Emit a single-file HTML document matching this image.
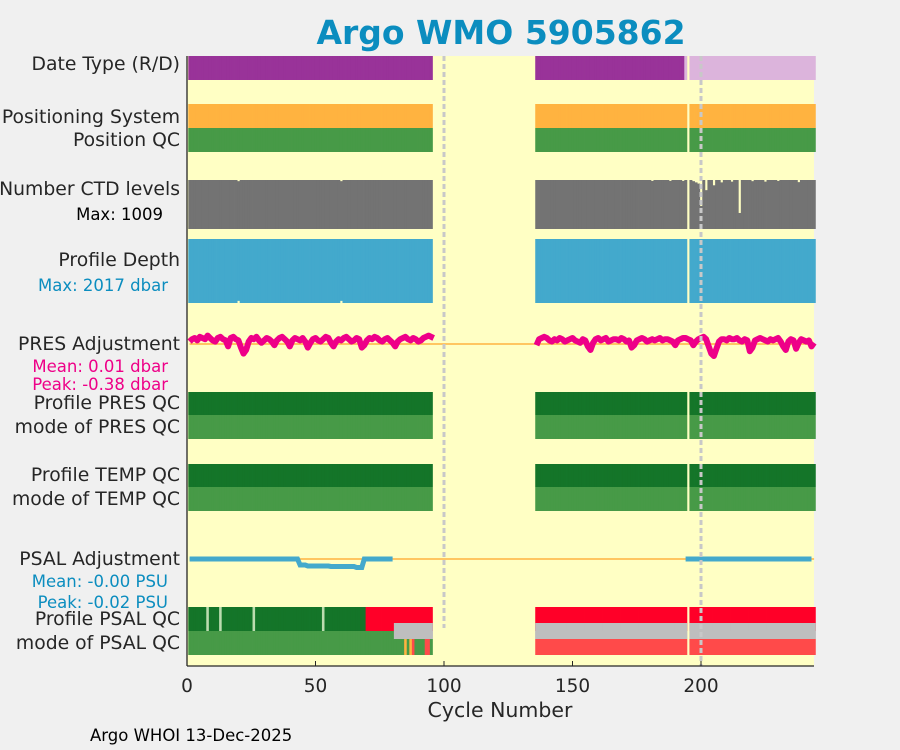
<!DOCTYPE html>
<html><head><meta charset="utf-8"><style>
html,body{margin:0;padding:0;background:#f0f0f0;}
svg{display:block;font-family:"DejaVu Sans","Liberation Sans",sans-serif;}
</style></head><body>
<svg id="chart" width="900" height="750" viewBox="0 0 900 750" xmlns="http://www.w3.org/2000/svg">
<rect width="900" height="750" fill="#f0f0f0"/>
<text x="501" y="44" text-anchor="middle" font-size="33" font-weight="bold" fill="#0b8dbf">Argo WMO 5905862</text>
<rect x="187" y="56" width="627" height="610" fill="#ffffc4"/>
<g id="marks"></g>
<g font-size="18.8" fill="#262626" text-anchor="end">
<text x="180" y="70">Date Type (R/D)</text>
<text x="180" y="123">Positioning System</text>
<text x="180" y="146">Position QC</text>
<text x="180" y="195">Number CTD levels</text>
<text x="163" y="220" font-size="16.5" fill="#000">Max: 1009</text>
<text x="180" y="266">Profile Depth</text>
<text x="168" y="291" font-size="16.5" fill="#0b8dbf">Max: 2017 dbar</text>
<text x="180" y="350">PRES Adjustment</text>
<text x="168" y="372" font-size="16.5" fill="#ee0088">Mean: 0.01 dbar</text>
<text x="168" y="390" font-size="16.5" fill="#ee0088">Peak: -0.38 dbar</text>
<text x="180" y="409">Profile PRES QC</text>
<text x="180" y="433">mode of PRES QC</text>
<text x="180" y="481">Profile TEMP QC</text>
<text x="180" y="505">mode of TEMP QC</text>
<text x="180" y="565">PSAL Adjustment</text>
<text x="168" y="587" font-size="16.5" fill="#0b8dbf">Mean: -0.00 PSU</text>
<text x="168" y="608" font-size="16.5" fill="#0b8dbf">Peak: -0.02 PSU</text>
<text x="180" y="625">Profile PSAL QC</text>
<text x="180" y="649">mode of PSAL QC</text>
</g>
<line x1="187" y1="56" x2="187" y2="666" stroke="#262626" stroke-width="1.3"/>
<line x1="187" y1="666" x2="814" y2="666" stroke="#262626" stroke-width="1.3"/>
<g id="xticks" font-size="18.5" fill="#262626" text-anchor="middle"></g>
<text x="500" y="717" text-anchor="middle" font-size="20.5" fill="#262626">Cycle Number</text>
<text x="90" y="741" font-size="16.5" fill="#000">Argo WHOI 13-Dec-2025</text>
</svg>
<script>
const xTicks=[0,50,100,150,200];
const segments=[[1,95],[136,244]];
const missingCycles=[195];
const realtimeEnd=193;
const ctdDipCycles=[20,60,181,188,193,197,198,199,200,202,205,208,212,215,220,225,230,238];
const ctdDipValues=[985,985,990,990,990,985,960,935,475,800,900,960,975,330,985,975,990,965];
const depthDipCycles=[20,60];
const depthDipValues=[1950,1950];
const presA=[2,4,5,3,6,5,4,7,5,3,2,5,6,4,3,-2,5,6,4,3,-3,-8,-5,2,5,4,6,3,1,3,5,4,2,-1,3,5,6,4,2,-2,3,5,4,3,5,2,-3,1,4,5,3,2,4,6,5,1,-2,2,4,3,5,6,4,2,3,5,4,-3,-1,3,5,4,6,5,3,2,4,5,3,1,-2,2,4,5,6,4,3,5,4,2,3,5,6,7,6,5];
const presB=[-1,4,5,6,5,3,2,4,3,5,4,2,3,4,5,3,2,1,4,3,-2,-5,1,4,5,3,4,5,2,3,4,4,3,5,4,2,3,-3,-1,3,4,5,4,2,3,4,3,4,5,3,4,4,3,2,-1,3,4,5,5,4,3,-1,2,4,5,6,4,-2,-8,-10,-4,2,4,4,3,5,4,4,5,3,2,4,3,-6,-3,3,4,5,4,3,2,4,3,4,5,2,-2,-5,2,4,3,-4,1,4,3,2,3,-2,1];
const psalCycles=[1,43,44,46,47,55,56,65,66,68,69,80,194,243];
const psalValues=[0,0,-0.012,-0.012,-0.014,-0.014,-0.015,-0.015,-0.017,-0.017,0,0,0,0];
const psalBadStart=70, psalGrayStart=81;
const psalProbeCycles=[8,13,26,53];
const psalModeFlags=[[85,'#ffb340'],[87,'#ffb340'],[88,'#ff4a4a'],[93,'#ff4a4a'],[94,'#ff4a4a']];
const ctdMax=1009, depthMax=2017;

const X0=187, PX=2.57;
const xs=c=>X0+c*PX;
const ns='http://www.w3.org/2000/svg';
const g=document.getElementById('marks');
function mk(tag,attrs,parent){const e=document.createElementNS(ns,tag);for(const k in attrs)e.setAttribute(k,attrs[k]);(parent||g).appendChild(e);return e;}
function present(c){return segments.some(s=>c>=s[0]&&c<=s[1])&&!missingCycles.includes(c);}
function cyc(fn){segments.forEach(s=>{for(let c=s[0];c<=s[1];c++)if(present(c))fn(c);});}
function row(y,h,colorFn,name){cyc(c=>{const r=mk('rect',{x:xs(c-0.5),y:y,width:PX+0.4,height:h,fill:colorFn(c)});

});}
row(56,24,c=>c<=realtimeEnd?'#993399':'#dcb4dc','date-type-cell');
row(104,24,c=>'#ffb340','positioning-cell');
row(128,24,c=>'#479a47','position-qc-cell');
cyc(c=>{const i=ctdDipCycles.indexOf(c);const v=i>=0?ctdDipValues[i]:ctdMax;const h=49*v/ctdMax;
const r=mk('rect',{x:xs(c-0.5),y:229-h,width:PX+0.4,height:h,fill:'#737373'});

});
cyc(c=>{const i=depthDipCycles.indexOf(c);const v=i>=0?depthDipValues[i]:depthMax;const h=64*v/depthMax;
const r=mk('rect',{x:xs(c-0.5),y:239,width:PX+0.4,height:h,fill:'#43a9cc'});

});
const zl=mk('line',{x1:xs(1),x2:xs(244),y1:344,y2:344,stroke:'#ffb340','stroke-width':1.5});


[[presA,1],[presB,136]].forEach(([arr,start])=>{let d='';arr.forEach((v,i)=>{d+=(i?'L':'M')+xs(start+i).toFixed(1)+','+(344-v*1.2).toFixed(1);});
const p=mk('path',{d:d,fill:'none',stroke:'#ee0088','stroke-width':6,'stroke-linejoin':'round'});

});
row(392,23,c=>'#147529','profile-pres-qc-cell');
row(415,24,c=>'#479a47','mode-pres-qc-cell');
row(464,23,c=>'#147529','profile-temp-qc-cell');
row(487,24,c=>'#479a47','mode-temp-qc-cell');
const pz=mk('line',{x1:xs(1),x2:xs(244),y1:559,y2:559,stroke:'#ffb340','stroke-width':1.5});


let pd='';psalCycles.forEach((c,i)=>{const brk=i>0&&c-psalCycles[i-1]>60;pd+=(i===0||brk?'M':'L')+xs(c).toFixed(1)+','+(559-psalValues[i]*500).toFixed(1);});
const pp=mk('path',{d:pd,fill:'none',stroke:'#43a9cc','stroke-width':5});


row(607,24,c=>c>=psalBadStart?'#ff0028':(psalProbeCycles.includes(c)?'#bcdcb0':'#147529'),'profile-psal-qc-cell');
cyc(c=>{if(c>=psalGrayStart){const r=mk('rect',{x:xs(c-0.5),y:623,width:PX+0.4,height:16,fill:'#bebebe'});

}});
row(639,16,c=>{const f=psalModeFlags.find(m=>m[0]===c);if(f)return f[1];return c>=136?'#ff4a4a':'#479a47';},'mode-psal-qc-cell');
row(631,8,c=>c>=psalGrayStart?'#bebebe':'#479a47','mode-psal-qc-top');
[[100,56,628],[200,56,666]].forEach(([c,y1,y2])=>{const l=mk('line',{x1:xs(c),x2:xs(c),y1:y1,y2:y2,stroke:'#c8c8c8','stroke-width':3,'stroke-dasharray':'5,3'});

});
const xt=document.getElementById('xticks');
xTicks.forEach(t=>{const l=mk('line',{x1:xs(t),x2:xs(t),y1:666,y2:661,stroke:'#262626','stroke-width':1},xt);


const tx=mk('text',{x:xs(t),y:692},xt);tx.textContent=t;

});
</script>
</body></html>
